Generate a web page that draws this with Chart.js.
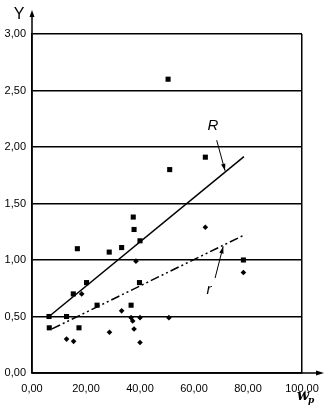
<!DOCTYPE html>
<html>
<head>
<meta charset="utf-8">
<script src="https://cdn.jsdelivr.net/npm/chart.js@4/dist/chart.umd.min.js"></script>
<style>
  html, body { margin: 0; padding: 0; background: #fff; }
  canvas { display: block; }
</style>
</head>
<body>
<canvas id="chart" width="330" height="409"></canvas>
<script>
// Puntos R (cuadrados)
const rxBig = [6.3, 6.4, 12.8, 15.3, 16.8, 17.4, 20.2, 24.1, 28.6, 33.2, 36.7, 37.5, 37.8, 39.8, 40.0, 50.4, 51.0, 64.2, 78.3]
const ryBig = [0.50, 0.40, 0.50, 0.70, 1.10, 0.40, 0.80, 0.60, 1.07, 1.11, 0.60, 1.38, 1.27, 0.80, 1.17, 2.60, 1.80, 1.91, 1.00]

// Puntos r (rombos)
const rxSmall = [12.8, 15.4, 18.4, 28.7, 33.2, 36.7, 37.3, 37.8, 38.5, 40.0, 40.0, 50.7, 64.2, 78.3]
const rySmall = [0.30, 0.28, 0.70, 0.36, 0.55, 0.49, 0.46, 0.39, 0.99, 0.49, 0.27, 0.49, 1.29, 0.89]

// Rectas de regresión
const lineRx = [6.3, 78.5]
const lineRy = [0.50, 1.915]
const linerx = [7.4, 78.5]
const linery = [0.39, 1.22]

// Ejes
const xTicks = [0, 20, 40, 60, 80, 100]
const yTicks = [0, 0.5, 1, 1.5, 2, 2.5, 3]

// Etiquetas R y r con sus flechas (coordenadas de datos)
const labelNames = ['R', 'r']
const labelPos = [[67.0, 2.19], [65.6, 0.74]]
const arrowFrom = [[68.4, 2.06], [67.8, 0.84]]
const arrowTo = [[71.5, 1.79], [70.8, 1.12]]

const toPoints = (xs, ys) => xs.map((x, i) => ({ x: x, y: ys[i] }))
const fmt = (v) => Number(v).toFixed(2).replace('.', ',')
const FONT = '"Liberation Sans", Arial, sans-serif'

function arrowHead(ctx, x1, y1, x2, y2, len, wid) {
	const a = Math.atan2(y2 - y1, x2 - x1)
	ctx.beginPath()
	ctx.moveTo(x2, y2)
	ctx.lineTo(x2 - len * Math.cos(a) + wid * Math.sin(a), y2 - len * Math.sin(a) - wid * Math.cos(a))
	ctx.lineTo(x2 - len * Math.cos(a) - wid * Math.sin(a), y2 - len * Math.sin(a) + wid * Math.cos(a))
	ctx.closePath()
	ctx.fill()
}

// Flechas de los ejes, nombres de ejes y etiquetas de las rectas
const extras = {
	id: 'extras',
	afterDraw(chart) {
		const ctx = chart.ctx
		const a = chart.chartArea
		const xs = chart.scales.x
		const ys = chart.scales.y
		ctx.save()
		ctx.strokeStyle = '#000'
		ctx.fillStyle = '#000'
		ctx.lineWidth = 1.5

		// eje Y con flecha
		ctx.beginPath()
		ctx.moveTo(a.left, a.bottom)
		ctx.lineTo(a.left, 14)
		ctx.stroke()
		arrowHead(ctx, a.left, 40, a.left, 10, 7, 2.5)

		// eje X con flecha
		ctx.beginPath()
		ctx.moveTo(a.left, a.bottom)
		ctx.lineTo(318, a.bottom)
		ctx.stroke()
		arrowHead(ctx, 290, a.bottom, 324, a.bottom, 8, 2.5)

		// nombre del eje Y
		ctx.font = '16px ' + FONT
		ctx.textAlign = 'center'
		ctx.textBaseline = 'middle'
		ctx.fillText('Y', 19, 15)

		// nombre del eje X: w con subíndice p
		ctx.font = 'italic bold 14px "DejaVu Serif", serif'
		ctx.textAlign = 'left'
		ctx.textBaseline = 'alphabetic'
		ctx.fillText('w', 297, 400)
		ctx.font = 'italic bold 9px "DejaVu Serif", serif'
		ctx.fillText('p', 308, 403)

		// etiquetas R, r y flechas
		ctx.lineWidth = 1
		labelNames.forEach((name, i) => {
			ctx.font = 'italic 15px ' + FONT
			ctx.textAlign = 'center'
			ctx.textBaseline = 'middle'
			ctx.fillText(name, xs.getPixelForValue(labelPos[i][0]), ys.getPixelForValue(labelPos[i][1]))
			const x1 = xs.getPixelForValue(arrowFrom[i][0])
			const y1 = ys.getPixelForValue(arrowFrom[i][1])
			const x2 = xs.getPixelForValue(arrowTo[i][0])
			const y2 = ys.getPixelForValue(arrowTo[i][1])
			ctx.beginPath()
			ctx.moveTo(x1, y1)
			ctx.lineTo(x2, y2)
			ctx.stroke()
			arrowHead(ctx, x1, y1, x2, y2, 7, 2.2)
		})
		ctx.restore()
	},
}

new Chart(document.getElementById('chart'), {
	type: 'scatter',
	data: {
		datasets: [
			{
				label: 'R',
				data: toPoints(lineRx, lineRy),
				showLine: true,
				borderColor: '#000',
				borderWidth: 1.5,
				pointRadius: 0,
			},
			{
				label: 'r',
				data: toPoints(linerx, linery),
				showLine: true,
				borderColor: '#000',
				borderWidth: 1.5,
				borderDash: [9, 3, 2, 3, 2, 3],
				pointRadius: 0,
			},
			{
				label: 'R puntos',
				data: toPoints(rxBig, ryBig),
				pointStyle: 'rect',
				pointRadius: 3.6,
				backgroundColor: '#000',
				borderColor: '#000',
				borderWidth: 0,
			},
			{
				label: 'r puntos',
				data: toPoints(rxSmall, rySmall),
				pointStyle: 'rectRot',
				pointRadius: 2.8,
				backgroundColor: '#000',
				borderColor: '#000',
				borderWidth: 0,
			},
		],
	},
	options: {
		responsive: false,
		animation: false,
		devicePixelRatio: 1,
		layout: { padding: { top: 34, right: 28, left: 0, bottom: 0 } },
		plugins: {
			legend: { display: false },
			tooltip: { enabled: false },
		},
		scales: {
			x: {
				type: 'linear',
				min: 0,
				max: 100,
				afterBuildTicks: (s) => { s.ticks = xTicks.map((v) => ({ value: v })) },
				afterFit: (s) => { s.height = 36 },
				border: { display: true, color: '#000', width: 1.5 },
				grid: {
					drawTicks: false,
					color: (c) => (c.tick && c.tick.value === 100 ? '#000' : 'rgba(0,0,0,0)'),
					lineWidth: 1.5,
				},
				ticks: {
					padding: 9,
					color: '#000',
					font: { family: FONT, size: 11 },
					callback: (v) => fmt(v),
				},
			},
			y: {
				type: 'linear',
				min: 0,
				max: 3,
				afterBuildTicks: (s) => { s.ticks = yTicks.map((v) => ({ value: v })) },
				afterFit: (s) => { s.width = 32 },
				border: { display: true, color: '#000', width: 1.5 },
				grid: {
					drawTicks: false,
					color: '#000',
					lineWidth: 1.5,
				},
				ticks: {
					padding: 6,
					color: '#000',
					font: { family: FONT, size: 11 },
					callback: (v) => fmt(v),
				},
			},
		},
	},
	plugins: [extras],
})
</script>
</body>
</html>
